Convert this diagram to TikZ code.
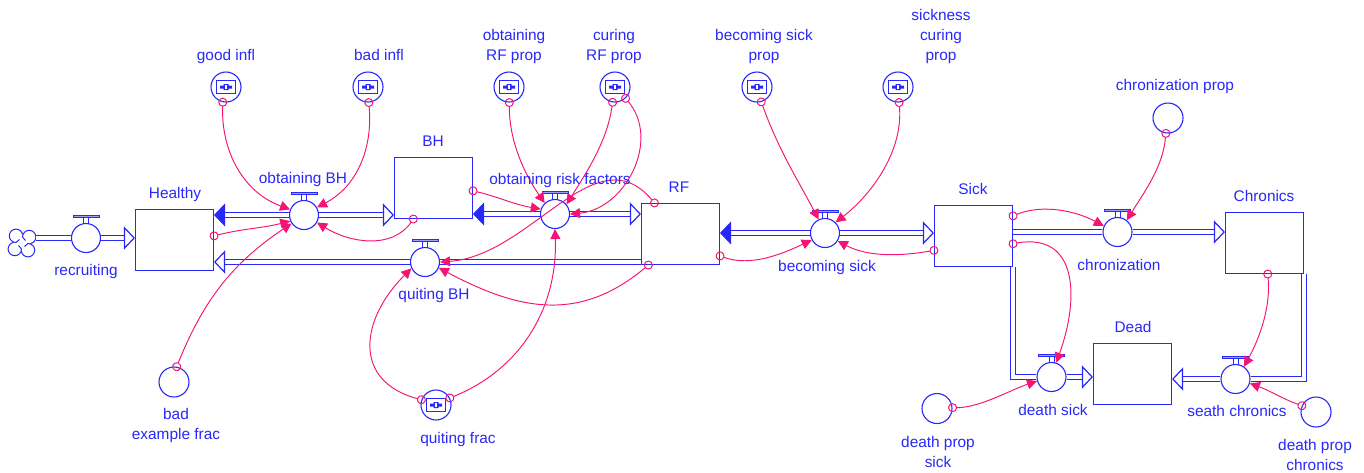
\documentclass[tikz,border=0pt]{standalone}
\usepackage{fontspec}
\setmainfont{Liberation Sans}
\usetikzlibrary{arrows.meta, positioning}
\definecolor{flowblue}{RGB}{40,40,250}
\definecolor{linkpink}{RGB}{245,20,115}
\tikzset{
    lab/.style={text=flowblue, font=\fontsize{15.4}{20}\selectfont, align=center, inner sep=0},
    stock/.style={rectangle, draw=flowblue, line width=1.1pt, fill=white, minimum width=78pt, minimum height=61pt, inner sep=0},
    valve/.style={circle, draw=flowblue, line width=1.1pt, fill=white, minimum size=29pt, inner sep=0},
    aux/.style={circle, draw=flowblue, line width=1.1pt, fill=white, minimum size=30pt, inner sep=0},
    flow/.style={color=flowblue, double=white, double distance=3.2pt, line width=1.3pt},
    flowin/.style={flow, -{Triangle[open, fill=white, length=11pt, width=23pt, line width=1.2pt]}},
    flowout/.style={flow, -{Triangle[fill=flowblue, length=11pt, width=23pt, line width=0.6pt]}},
    link/.style={color=linkpink, line width=0.95pt, shorten <=-4.5pt,
        {Circle[open, length=9pt, width=9pt, line width=1pt]}-{Triangle[length=10pt, width=10pt, fill=linkpink]}}
}
\begin{document}
\begin{tikzpicture}[x=1pt, y=-1pt]
    \useasboundingbox (0,0) rectangle (1364,472);
    % stocks
    \node[stock] (healthy)  at (174.5,240) {};
    \node[stock] (bh)       at (433.5,188) {};
    \node[stock] (rf)       at (680.5,234) {};
    \node[stock] (sick)     at (973.5,236) {};
    \node[stock] (chronics) at (1264.5,243) {};
    \node[stock] (dead)     at (1132.5,374) {};
    % valves
    \node[valve] (recruiting) at (86,238) {};
    \node[valve] (obtbh)      at (304,215) {};
    \node[valve] (obtrisk)    at (555,214) {};
    \node[valve] (quitbh)     at (425,262) {};
    \node[valve] (becsick)    at (825,233) {};
    \node[valve] (chroniz)    at (1117.5,232) {};
    \node[valve] (deathsick)  at (1051.5,377) {};
    \node[valve] (seath)      at (1235.5,379) {};
    % auxiliaries
    \node[aux] (goodinfl)  at (226,87) {};
    \node[aux] (badinfl)   at (368,87) {};
    \node[aux] (obtprop)   at (509,87) {};
    \node[aux] (curprop)   at (615,87) {};
    \node[aux] (becprop)   at (757,87) {};
    \node[aux] (sickprop)  at (898,87) {};
    \node[aux] (quitfrac)  at (436,405) {};
    \node[aux] (chronprop) at (1168,118) {};
    \node[aux] (badfrac)   at (174,382) {};
    \node[aux] (dpsick)    at (937,408.5) {};
    \node[aux] (dpchron)   at (1316,412) {};
    \node[minimum size=28pt, inner sep=0] (source) at (22,243) {};
    % little cloud
    \foreach \a in {0,-90,-180,-270}
        \draw[flowblue, line width=1pt, shift={(source)}, rotate=\a]
            (3.5,-2.5) -- (0.5,-6) arc[start angle=180, end angle=440, radius=6.7];
    % handles of the valves
    \foreach \v in {recruiting,obtbh,obtrisk,quitbh,becsick,chroniz,deathsick,seath} {
        \draw[flowblue, line width=1pt, shift={(\v)}] (-2.5,-14.5) -- (-2.5,-21) (2.5,-14.5) -- (2.5,-21);
        \draw[flowblue, line width=1pt, fill=flowblue!45, shift={(\v)}] (-13,-23) rectangle (13,-20.5);
    }
    % table icons
    \foreach \v in {goodinfl,badinfl,obtprop,curprop,becprop,sickprop,quitfrac} {
        \draw[flowblue, line width=1.9pt, shift={(\v)}] (-9.5,-6.5) rectangle (9.5,6.5);
        \fill[flowblue, shift={(\v)}] (-6,-1.5) rectangle (6,1.5) (-2.5,-3) rectangle (2.5,3);
        \fill[white, shift={(\v)}] (-1,-2) rectangle (1,2);
    }
    % pipes
    \draw[flow] (recruiting.west) -- (recruiting.west -| source.east);
    \draw[flow] (quitbh.east) -- (quitbh.east -| rf.west);
    \draw[flow] (chroniz.west) -- (chroniz.west -| sick.east);
    \draw[flowin] (recruiting.east) -- (recruiting.east -| healthy.west);
    \draw[flowout] (obtbh.west) -- (obtbh.west -| healthy.east);
    \draw[flowin] (obtbh.east) -- (obtbh.east -| bh.west);
    \draw[flowin] (quitbh.west) -- (quitbh.west -| healthy.east);
    \draw[flowout] (obtrisk.west) -- (obtrisk.west -| bh.east);
    \draw[flowin] (obtrisk.east) -- (obtrisk.east -| rf.west);
    \draw[flowout] (becsick.west) -- (becsick.west -| rf.east);
    \draw[flowin] (becsick.east) -- (becsick.east -| sick.west);
    \draw[flowin] (chroniz.east) -- (chroniz.east -| chronics.west);
    \draw[flow] (sick.south east) |- (deathsick.west);
    \draw[flowin] (deathsick.east) -- (deathsick.east -| dead.west);
    \draw[flow] (chronics.south east) |- (seath.east);
    \draw[flowin] (seath.west) -- (seath.west -| dead.east);
    % influences
    \path[link]
        (goodinfl.-102) edge[out=-92, in=160, looseness=1] (obtbh.158)
        (badinfl.-87) edge[out=-85, in=28, looseness=1] (obtbh.30)
        (badfrac.80) edge[out=68, in=214, looseness=1] (obtbh.214)
        (healthy.6) edge[out=14, in=194] (obtbh.204)
        (bh.-123) edge[out=-125, in=-32, looseness=1] (obtbh.-30)
        (bh.-4.5) edge[out=-14, in=170] (obtrisk.161)
        (obtprop.-89) edge[out=-90, in=125, looseness=0.9] (obtrisk.133)
        (curprop.-99) edge[out=-98, in=58, looseness=0.9] (obtrisk.40)
        (curprop.-47) edge[out=-50, in=5, looseness=1.1] (obtrisk.0)
        (rf.130) edge[out=130, in=4, looseness=1.05] (quitbh.0)
        (rf.-136) edge[out=-140, in=-28, looseness=1.1] (quitbh.-23)
        (quitfrac.160) edge[out=165, in=225, looseness=1.4] (quitbh.205)
        (quitfrac.27) edge[out=22, in=-88, looseness=1] (obtrisk.-90)
        (rf.-29) edge[out=-20, in=205, looseness=0.9] (becsick.208)
        (sick.200) edge[out=190, in=-28, looseness=0.9] (becsick.-32)
        (becprop.-74) edge[out=-70, in=118] (becsick.115)
        (sickprop.-86) edge[out=-85, in=38, looseness=0.9] (becsick.45)
        (sick.27) edge[out=22, in=152, looseness=0.9] (chroniz.156)
        (chronprop.-98) edge[out=-95, in=58, looseness=0.9] (chroniz.52)
        (sick.-11) edge[out=10, in=70, looseness=1.35] (deathsick.72)
        (chronics.-84) edge[out=-85, in=62, looseness=0.9] (seath.55)
        (dpsick.3) edge[out=0, in=198, looseness=0.8] (deathsick.196)
        (dpchron.156) edge[out=160, in=-20] (seath.-17);
    % labels
    \node[lab] (healthy-lab) at (175,195) {Healthy};
    \node[lab] (bh-lab) at (433,141) {BH};
    \node[lab] (rf-lab) at (679,187) {RF};
    \node[lab] (sick-lab) at (973,189) {Sick};
    \node[lab] (chronics-lab) at (1264,196) {Chronics};
    \node[lab] (dead-lab) at (1133,327) {Dead};
    \node[lab] (recruiting-lab) at (86,272) {recruiting};
    \node[lab] (obtbh-lab) at (303,180) {obtaining BH};
    \node[lab] (obtrisk-lab) at (560,181) {obtaining risk factors};
    \node[lab] (quitbh-lab) at (434,296) {quiting BH};
    \node[lab] (becsick-lab) at (827,268) {becoming sick};
    \node[lab] (chroniz-lab) at (1119,265) {chronization};
    \node[lab] (deathsick-lab) at (1053,410) {death sick};
    \node[lab] (seath-lab) at (1237,411) {seath chronics};
    \node[lab] (goodinfl-lab) at (226,57) {good infl};
    \node[lab] (badinfl-lab) at (379,55) {bad infl};
    \node[lab] (obtprop-lab) at (514,47) {obtaining\\RF prop};
    \node[lab] (curprop-lab) at (614,47) {curing\\RF prop};
    \node[lab] (becprop-lab) at (764,47) {becoming sick\\prop};
    \node[lab] (sickprop-lab) at (941,37) {sickness\\curing\\prop};
    \node[lab] (chronprop-lab) at (1175,87) {chronization prop};
    \node[lab] (badfrac-lab) at (176,426) {bad\\example frac};
    \node[lab] (quitfrac-lab) at (458,440) {quiting frac};
    \node[lab] (dpsick-lab) at (938,451.5) {death prop\\sick};
    \node[lab] (dpchron-lab) at (1315,455) {death prop\\chronics};
\end{tikzpicture}
\end{document}
